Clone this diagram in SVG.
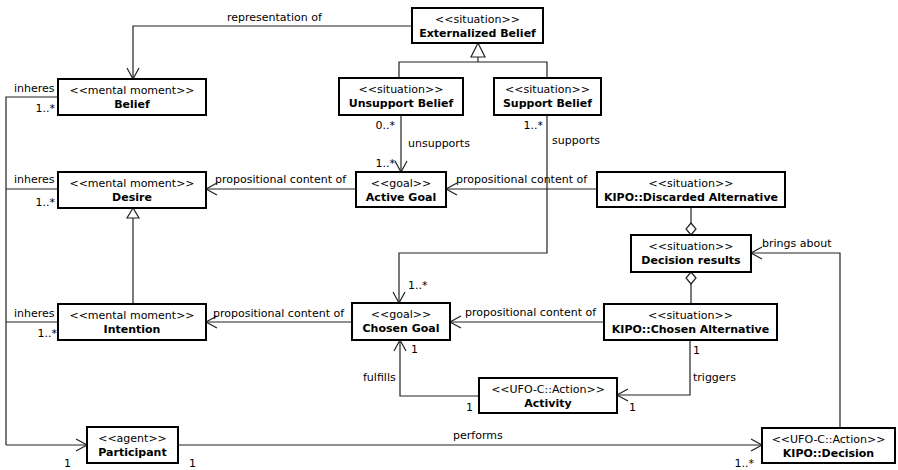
<svg xmlns="http://www.w3.org/2000/svg" width="898" height="470" viewBox="0 0 898 470">
  <style>
    .box { fill: #fff; stroke: #000; stroke-width: 2; }
    .st { font-family: "DejaVu Sans", sans-serif; font-size: 11px; text-anchor: middle; fill: #000; }
    .nm { font-family: "DejaVu Sans", sans-serif; font-size: 11px; font-weight: bold; text-anchor: middle; fill: #000; }
    .lb { font-family: "DejaVu Sans", sans-serif; font-size: 11px; fill: #000; }
    .end { text-anchor: end; }
    .ln { fill: none; stroke: #222; stroke-width: 1.2; }
    .arr { marker-end: url(#open); }
  </style>
  <defs>
    <marker id="open" markerUnits="userSpaceOnUse" markerWidth="14" markerHeight="14" viewBox="-12 -7 14 14" refX="0" refY="0" orient="auto">
      <path d="M-11,-6 L0,0 L-11,6" fill="none" stroke="#222" stroke-width="1.2"/>
    </marker>
  </defs>

  <!-- connectors -->
  <g id="connectors">
    <!-- representation of -->
    <path class="ln arr" d="M412,26 H133 V79"/>
    <!-- generalizations of Externalized Belief -->
    <path class="ln" d="M399,78 V62 H547 V78 M478,62 V57"/>
    <path d="M478,43 L471,57 H485 Z" fill="#fff" stroke="#222" stroke-width="1.2"/>
    <!-- Intention specializes Desire -->
    <path class="ln" d="M133,304 V218"/>
    <path d="M133,208 L127,218 H139 Z" fill="#fff" stroke="#222" stroke-width="1.2"/>
    <!-- inheres to Participant -->
    <path class="ln" d="M58,97 H6 V445 M58,189 H6 M58,322 H6"/>
    <path class="ln arr" d="M6,445 H87"/>
    <!-- unsupports -->
    <path class="ln arr" d="M401,115 V172"/>
    <!-- supports -->
    <path class="ln arr" d="M547,115 V253 H399 V303"/>
    <!-- propositional content -->
    <path class="ln arr" d="M356,189 H206"/>
    <path class="ln arr" d="M597,189 H446"/>
    <path class="ln arr" d="M352,322 H206"/>
    <path class="ln arr" d="M604,322 H450"/>
    <!-- aggregation into Decision results -->
    <path class="ln" d="M691,207 V223"/>
    <path d="M691,223 L696,229 L691,235 L686,229 Z" fill="#fff" stroke="#222" stroke-width="1.2"/>
    <path class="ln" d="M691,284 V304"/>
    <path d="M691,272 L696,278 L691,284 L686,278 Z" fill="#fff" stroke="#222" stroke-width="1.2"/>
    <!-- brings about -->
    <path class="ln arr" d="M840,428 V253 H751"/>
    <!-- triggers -->
    <path class="ln arr" d="M690,340 V395 H617"/>
    <!-- fulfills -->
    <path class="ln arr" d="M479,396 H400 V340"/>
    <!-- performs -->
    <path class="ln arr" d="M178,445 H762"/>

    <!-- connector labels -->
    <text class="lb" x="227" y="21">representation of</text>
    <text class="lb" x="14" y="92">inheres</text>
    <text class="lb end" x="55" y="112">1..*</text>
    <text class="lb" x="14" y="183">inheres</text>
    <text class="lb end" x="55" y="206">1..*</text>
    <text class="lb" x="14" y="317">inheres</text>
    <text class="lb end" x="57" y="337">1..*</text>
    <text class="lb" x="64" y="467">1</text>
    <text class="lb" x="189" y="467">1</text>
    <text class="lb end" x="395" y="129">0..*</text>
    <text class="lb" x="408" y="147">unsupports</text>
    <text class="lb end" x="395" y="167">1..*</text>
    <text class="lb end" x="543" y="129">1..*</text>
    <text class="lb" x="552" y="144">supports</text>
    <text class="lb" x="408" y="289">1..*</text>
    <text class="lb" x="215" y="183">propositional content of</text>
    <text class="lb" x="456" y="183">propositional content of</text>
    <text class="lb" x="213" y="317">propositional content of</text>
    <text class="lb" x="465" y="316">propositional content of</text>
    <text class="lb" x="762" y="247">brings about</text>
    <text class="lb" x="693" y="354">1</text>
    <text class="lb" x="693" y="381">triggers</text>
    <text class="lb" x="629" y="411">1</text>
    <text class="lb" x="411" y="353">1</text>
    <text class="lb" x="363" y="381">fulfills</text>
    <text class="lb" x="466" y="411">1</text>
    <text class="lb" x="453" y="439">performs</text>
    <text class="lb end" x="754" y="467">1..*</text>
  </g>

  <!-- nodes -->
  <g id="externalized-belief">
    <rect class="box" x="412" y="8" width="131" height="35"/>
    <text class="st" x="477.5" y="23">&lt;&lt;situation&gt;&gt;</text>
    <text class="nm" x="477.5" y="37">Externalized Belief</text>
  </g>
  <g id="belief">
    <rect class="box" x="58" y="79" width="148" height="36"/>
    <text class="st" x="132" y="94">&lt;&lt;mental moment&gt;&gt;</text>
    <text class="nm" x="132" y="108">Belief</text>
  </g>
  <g id="unsupport-belief">
    <rect class="box" x="339" y="78" width="124" height="37"/>
    <text class="st" x="401" y="93">&lt;&lt;situation&gt;&gt;</text>
    <text class="nm" x="401" y="107">Unsupport Belief</text>
  </g>
  <g id="support-belief">
    <rect class="box" x="494" y="78" width="107" height="37"/>
    <text class="st" x="547.5" y="93">&lt;&lt;situation&gt;&gt;</text>
    <text class="nm" x="547.5" y="107">Support Belief</text>
  </g>
  <g id="desire">
    <rect class="box" x="58" y="172" width="148" height="36"/>
    <text class="st" x="132" y="187">&lt;&lt;mental moment&gt;&gt;</text>
    <text class="nm" x="132" y="201">Desire</text>
  </g>
  <g id="active-goal">
    <rect class="box" x="356" y="172" width="90" height="35"/>
    <text class="st" x="401" y="187">&lt;&lt;goal&gt;&gt;</text>
    <text class="nm" x="401" y="201">Active Goal</text>
  </g>
  <g id="discarded-alternative">
    <rect class="box" x="597" y="172" width="188" height="35"/>
    <text class="st" x="691" y="187">&lt;&lt;situation&gt;&gt;</text>
    <text class="nm" x="691" y="201">KIPO::Discarded Alternative</text>
  </g>
  <g id="decision-results">
    <rect class="box" x="631" y="235" width="120" height="37"/>
    <text class="st" x="691" y="250">&lt;&lt;situation&gt;&gt;</text>
    <text class="nm" x="691" y="264">Decision results</text>
  </g>
  <g id="intention">
    <rect class="box" x="58" y="304" width="148" height="36"/>
    <text class="st" x="132" y="319">&lt;&lt;mental moment&gt;&gt;</text>
    <text class="nm" x="132" y="333">Intention</text>
  </g>
  <g id="chosen-goal">
    <rect class="box" x="352" y="303" width="98" height="37"/>
    <text class="st" x="401" y="318">&lt;&lt;goal&gt;&gt;</text>
    <text class="nm" x="401" y="332">Chosen Goal</text>
  </g>
  <g id="chosen-alternative">
    <rect class="box" x="604" y="304" width="173" height="36"/>
    <text class="st" x="690.5" y="319">&lt;&lt;situation&gt;&gt;</text>
    <text class="nm" x="690.5" y="333">KIPO::Chosen Alternative</text>
  </g>
  <g id="activity">
    <rect class="box" x="479" y="378" width="138" height="35"/>
    <text class="st" x="548" y="393">&lt;&lt;UFO-C::Action&gt;&gt;</text>
    <text class="nm" x="548" y="407">Activity</text>
  </g>
  <g id="participant">
    <rect class="box" x="87" y="427" width="91" height="36"/>
    <text class="st" x="132.5" y="442">&lt;&lt;agent&gt;&gt;</text>
    <text class="nm" x="132.5" y="456">Participant</text>
  </g>
  <g id="kipo-decision">
    <rect class="box" x="762" y="428" width="133" height="35"/>
    <text class="st" x="828.5" y="443">&lt;&lt;UFO-C::Action&gt;&gt;</text>
    <text class="nm" x="828.5" y="457">KIPO::Decision</text>
  </g>
</svg>
